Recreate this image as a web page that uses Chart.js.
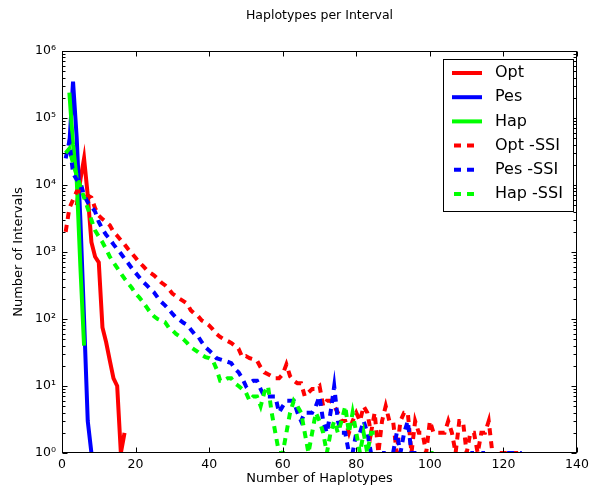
<!DOCTYPE html>
<html><head><meta charset="utf-8">
<style>html,body{margin:0;padding:0;background:#fff}#wrap{width:603px;height:486px}</style>
<script src="https://cdn.jsdelivr.net/npm/chart.js@4/dist/chart.umd.min.js"></script>
</head><body><div id="wrap"><canvas id="c" width="603" height="486"></canvas></div>
<script>
// Number of haplotypes (x) for each position in the series arrays below
const haplotypes = [
  1,2,3,4,5,6,7,8,9,10,11,12,13,14,15,16,17,18,19,20,
  21,22,23,24,25,26,27,28,29,30,31,32,33,34,35,36,37,38,39,40,
  41,42,43,44,45,46,47,48,49,50,51,52,53,54,55,56,57,58,59,60,
  61,62,63,64,65,66,67,68,69,70,71,72,73,74,75,76,77,78,79,80,
  81,82,83,84,85,86,87,88,89,90,91,92,93,94,95,96,97,98,99,100,
  101,102,103,104,105,106,107,108,109,110,111,112,113,114,115,116,117,118,119,120,
  121,122,123,124,125
];
// Number of intervals per haplotype count (0 = none)
const opt = [0,0,0,5000,12000,25000,7000,1400,850,700,75,45,24,13,10,1,2];
const pes = [0,40000,350000,50000,3000,100,3,1];
const hap = [0,240000,40000,12000,600,40];
const optSSI = [
  2000,4500,6000,8000,8000,7500,7000,6500,4500,3500,
  3100,2800,2500,2000,1750,1500,1300,1100,950,820,
  700,620,540,490,450,400,350,320,280,240,
  220,200,185,170,135,120,110,95,88,80,
  70,60,54,50,47,44,40,36,27,28,
  26,25,24,19,16,15,14,13,13,15,
  21,14,12,11,11,7,8,9,9,10,
  5,6,6,5,4,3,3,2,3,4,
  3,5,4,2,4,1,3,5,3,3,
  1,3,4,4,1,3,2,2,1,3,
  2,2,2,2,3,2,1,3,3,1,
  2,2,1,2,2,3,1,0,1,1,
  1,1,1,1,0
];
const pesSSI = [
  25000,45000,15000,12000,11000,7000,5500,4800,4000,2800,
  2200,1800,1550,1300,1100,950,800,680,570,490,
  420,360,320,280,250,210,180,160,140,120,
  105,97,88,82,70,60,55,45,38,34,
  30,26,25,24,23,22,18,16,13,10,
  11,12,12,9,7,7,7,7,4,5,
  6,6,6,4,3,4,4,4,5,7,
  3,2,4,10,3,2,2,1,1,2,
  2,3,2,1,1,0,1,1,0,1,
  2,1,2,3,1,1,1,0,0,0,
  0,0,0,0,0,0,0,0,0,0,
  1,1,0,1,1,0,0,0,0,0,
  1,1,1,1,1
];
const hapSSI = [
  30000,35000,21000,14000,9500,6500,4500,3000,2100,1700,
  1400,1100,850,700,580,480,400,340,290,240,
  210,180,150,125,110,100,95,90,75,68,
  60,55,50,44,38,35,32,29,27,26,
  24,18,12,12,13,13,11,10,9,8,
  6,7,7,5,8,10,4,2,1,1,
  2,4,6,5,4,2,1,2,4,3,
  2,1,2,3,2,3,5,2,4,2,
  1,2,1,2,2,0,0,0,0,0,
  0,0,0,0,0,0,0,0,0,1,
  1
];
const seriesNames = ['Opt','Pes','Hap','Opt -SSI','Pes -SSI','Hap -SSI'];
const chartTitle = 'Haplotypes per Interval';
const xTickValues = [0,20,40,60,80,100,120,140];
const yTickValues = [1,10,100,1000,10000,100000,1000000];
const yTickLabels = ['10\u2070','10\u00B9','10\u00B2','10\u00B3','10\u2074','10\u2075','10\u2076'];

const FONT = 'DejaVu Sans';
const toPoints = arr => arr.map((v, i) => ({x: haplotypes[i], y: v > 0 ? v : null}));
const colors = ['#ff0000','#0000ff','#00ff00','#ff0000','#0000ff','#00ff00'];
const allSeries = [opt, pes, hap, optSSI, pesSSI, hapSSI];
const DASH = [7,6];

const datasets = allSeries.map((s, i) => ({
  label: seriesNames[i],
  data: toPoints(s),
  borderColor: colors[i],
  backgroundColor: colors[i],
  borderWidth: 4,
  borderDash: i >= 3 ? DASH : [],
  borderCapStyle: 'butt',
  borderJoinStyle: 'miter',
  pointRadius: 0,
  pointHoverRadius: 0,
  tension: 0,
  spanGaps: false,
  fill: false,
  clip: 0,
  order: -i
}));

const frameTicks = {
  id: 'frameTicks',
  afterDatasetsDraw(chart) {
    const {ctx, chartArea: a, scales: {x, y}} = chart;
    ctx.save();
    ctx.strokeStyle = '#000';
    ctx.lineWidth = 1;
    ctx.beginPath();
    const L = Math.round(a.left) + 0.5, R = Math.round(a.right) - 0.5;
    const T = Math.round(a.top) + 0.5, B = Math.round(a.bottom) - 0.5;
    for (const v of xTickValues) {
      const px = Math.round(x.getPixelForValue(v)) + 0.5;
      ctx.moveTo(px, B); ctx.lineTo(px, B - 5);
      ctx.moveTo(px, T); ctx.lineTo(px, T + 5);
    }
    for (const v of yTickValues) {
      const py = Math.round(y.getPixelForValue(v)) + 0.5;
      ctx.moveTo(L, py); ctx.lineTo(L + 5, py);
      ctx.moveTo(R, py); ctx.lineTo(R - 5, py);
    }
    for (let d = 0; d < 6; d++) {
      for (let m = 2; m <= 9; m++) {
        const py = Math.round(y.getPixelForValue(m * Math.pow(10, d))) + 0.5;
        ctx.moveTo(L, py); ctx.lineTo(L + 3, py);
        ctx.moveTo(R, py); ctx.lineTo(R - 3, py);
      }
    }
    ctx.stroke();
    ctx.strokeRect(L, T, R - L, B - T);
    ctx.restore();
  }
};

const titleAndLegend = {
  id: 'titleAndLegend',
  afterDraw(chart) {
    const ctx = chart.ctx;
    const a = chart.chartArea;
    ctx.save();
    // title centred over the plot area
    ctx.fillStyle = '#000';
    ctx.font = '12.5px "' + FONT + '"';
    ctx.textAlign = 'center';
    ctx.textBaseline = 'middle';
    ctx.fillText(chartTitle, (a.left + a.right) / 2, 16);
    // legend box inside the axes
    const bx = 443.5, by = 59.5, bw = 130, bh = 152;
    ctx.fillStyle = '#fff';
    ctx.fillRect(bx, by, bw, bh);
    ctx.strokeStyle = '#000';
    ctx.lineWidth = 1;
    ctx.strokeRect(bx, by, bw, bh);
    chart.data.datasets.forEach((ds, i) => {
      const yy = 73 + i * 24.2;
      ctx.strokeStyle = ds.borderColor;
      ctx.lineWidth = 4;
      ctx.lineCap = 'butt';
      ctx.setLineDash(ds.borderDash || []);
      ctx.beginPath();
      if (ds.borderDash && ds.borderDash.length) { ctx.moveTo(454, yy); ctx.lineTo(478, yy); }
      else { ctx.moveTo(452, yy); ctx.lineTo(482, yy); }
      ctx.stroke();
      ctx.setLineDash([]);
      ctx.fillStyle = '#000';
      ctx.font = '16px "' + FONT + '"';
      ctx.textBaseline = 'middle';
      ctx.textAlign = 'left';
      ctx.fillText(ds.label, 495, yy);
    });
    ctx.restore();
  }
};

new Chart(document.getElementById('c'), {
  type: 'line',
  data: {datasets},
  options: {
    responsive: false,
    devicePixelRatio: 1,
    animation: false,
    layout: {padding: {left: 0, right: 26, top: 51, bottom: 0}},
    plugins: {
      legend: {display: false},
      tooltip: {enabled: false},
      title: {display: false}
    },
    scales: {
      x: {
        type: 'linear', min: 0, max: 140,
        afterBuildTicks: s => { s.ticks = xTickValues.map(v => ({value: v})); },
        ticks: {color: '#000', font: {family: FONT, size: 12.5}, padding: 4, maxRotation: 0, autoSkip: false},
        grid: {display: false, drawTicks: false},
        border: {display: false},
        title: {display: true, text: 'Number of Haplotypes', color: '#000', font: {family: FONT, size: 13}, padding: {top: 0, bottom: 0}},
        afterFit: s => { s.height = 33; }
      },
      y: {
        type: 'logarithmic', min: 1, max: 1000000,
        afterBuildTicks: s => { s.ticks = yTickValues.map(v => ({value: v})); },
        ticks: {
          color: '#000', font: {family: FONT, size: 12.5}, padding: 6, autoSkip: false,
          callback: (v) => { const k = yTickValues.indexOf(v); return k >= 0 ? yTickLabels[k] : ''; }
        },
        grid: {display: false, drawTicks: false},
        border: {display: false},
        title: {display: true, text: 'Number of Intervals', color: '#000', font: {family: FONT, size: 13}, padding: {top: 11, bottom: 0}},
        afterFit: s => { s.width = 62; }
      }
    }
  },
  plugins: [frameTicks, titleAndLegend]
});
</script>
</body></html>
